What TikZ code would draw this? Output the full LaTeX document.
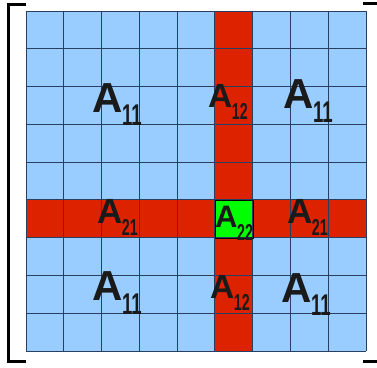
\documentclass[tikz,border=0pt]{standalone}
\usepackage{fontspec}
\usepackage{xcolor}
\usepackage{graphicx}
\setmainfont{Liberation Sans}
\definecolor{cellblue}{HTML}{99CCFF}
\definecolor{blockred}{HTML}{DD2200}
\definecolor{pivotgreen}{HTML}{00FF00}
\definecolor{gridline}{HTML}{2A3F5F}
\definecolor{labelink}{HTML}{1A1A1A}
\newcommand{\blocklbl}[4]{{\fontsize{#1}{#1}\selectfont\bfseries A}\kern-0.5pt\raisebox{-#4}{\scalebox{0.62}[1]{\fontsize{#3}{#3}\selectfont\bfseries #2}}}

\begin{document}
\begin{tikzpicture}[
    x=1pt, y=-1pt,
    gridln/.style={draw=gridline, line width=0.9pt},
    brk/.style={line width=3pt, line cap=butt},
    lbl/.style={anchor=base west, inner sep=0pt, text=labelink, font=\bfseries}
]
\useasboundingbox (0,0) rectangle (377,367);
\fill[cellblue] (26,11) rectangle (366,351);
\fill[blockred] (215,11) rectangle (253,351);
\fill[blockred] (26,200) rectangle (366,238);
\fill[pivotgreen] (215,200) rectangle (253,238);
\foreach \i in {0,...,9}{
  \draw[gridln] ({26+\i*340/9},11) -- ({26+\i*340/9},351);
  \draw[gridln] (26,{11+\i*340/9}) -- (366,{11+\i*340/9});
}
\draw[line width=1pt, black] (215,200) rectangle (253,238);
\draw[brk] (26,4) -- (8,4) -- (8,361) -- (26,361);
\draw[brk] (363,3.5) -- (379,3.5) -- (379,361) -- (363,361);

\node[lbl] (a11tl) at (92,112) {\blocklbl{42pt}{11}{30pt}{13pt}};
\node[lbl] (a12t) at (208,107) {\blocklbl{33.5pt}{12}{23pt}{12pt}};
\node[lbl] (a11tr) at (283,108) {\blocklbl{42pt}{11}{30pt}{14pt}};
\node[lbl] (a21l) at (97,223) {\blocklbl{35pt}{21}{23pt}{12pt}};
\node[lbl] (a22) at (215,227) {\blocklbl{31pt}{22}{23pt}{13pt}};
\node[lbl] (a21r) at (287,223) {\blocklbl{35pt}{21}{23pt}{12pt}};
\node[lbl] (a11bl) at (92,300) {\blocklbl{42pt}{11}{30pt}{14pt}};
\node[lbl] (a12b) at (210,298) {\blocklbl{33.5pt}{12}{23pt}{12pt}};
\node[lbl] (a11br) at (281,302) {\blocklbl{42pt}{11}{30pt}{13pt}};
\end{tikzpicture}
\end{document}
